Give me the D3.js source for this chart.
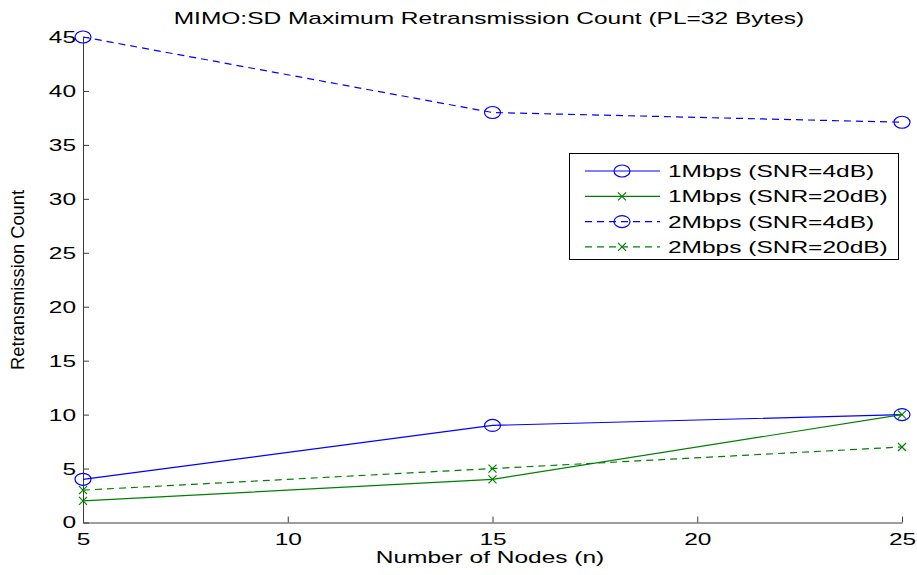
<!DOCTYPE html>
<html>
<head>
<meta charset="utf-8">
<script src="https://cdn.jsdelivr.net/npm/d3@7"></script>
<style>
  body { margin: 0; background: #fff; }
  text { font-family: "Liberation Sans", Arial, sans-serif; fill: #000; }
</style>
</head>
<body>
<div id="chart"></div>
<script>
// ---- data ----
const nodes = [5, 15, 25];
const seriesNames = ["1Mbps (SNR=4dB)", "1Mbps (SNR=20dB)", "2Mbps (SNR=4dB)", "2Mbps (SNR=20dB)"];
const mbps1Snr4  = [4, 9, 10];
const mbps1Snr20 = [2, 4, 10];
const mbps2Snr4  = [45, 38, 37.1];
const mbps2Snr20 = [3, 5, 7];
const xTicks = [5, 10, 15, 20, 25];
const yTicks = [0, 5, 10, 15, 20, 25, 30, 35, 40, 45];

const series = [
  { name: seriesNames[0], values: mbps1Snr4,  color: "#0000ff", dash: null,  marker: "o" },
  { name: seriesNames[1], values: mbps1Snr20, color: "#008000", dash: null,  marker: "x" },
  { name: seriesNames[2], values: mbps2Snr4,  color: "#0000ff", dash: "7,5", marker: "o" },
  { name: seriesNames[3], values: mbps2Snr20, color: "#008000", dash: "7,5", marker: "x" }
];

const width = 917, height = 575;
const stretch = 1.44; // the picture's text is wider than normal glyphs
const x = d3.scaleLinear().domain([5, 25]).range([83, 902]);
const y = d3.scaleLinear().domain([0, 45]).range([522.5, 37]);

const svg = d3.select("#chart").append("svg")
  .attr("width", width).attr("height", height);

// axes (MATLAB style: ticks inside, no box)
const xAxis = svg.append("g").attr("transform", `translate(0,${y(0)})`)
  .call(d3.axisBottom(x).tickValues(xTicks).tickSizeInner(-6).tickSizeOuter(0).tickPadding(10));
const yAxis = svg.append("g").attr("transform", `translate(${x(5)},0)`)
  .call(d3.axisLeft(y).tickValues(yTicks).tickSizeInner(-6).tickSizeOuter(0).tickPadding(8));

[xAxis, yAxis].forEach(a => {
  a.select(".domain").attr("stroke", "#3c3c3c");
  a.selectAll(".tick line").attr("stroke", "#3c3c3c");
  a.selectAll(".tick text").attr("font-size", 17).attr("font-family", "Liberation Sans, Arial, sans-serif").attr("fill", "#000");
});
xAxis.selectAll(".tick text").attr("dy", "0.71em");
yAxis.selectAll(".tick text").attr("x", -7);

// lines
const line = d3.line().x((d, i) => x(nodes[i])).y(d => y(d));
const plot = svg.append("g");

function drawMarker(g, type, cx, cy, color) {
  if (type === "o") {
    g.append("ellipse").attr("cx", cx).attr("cy", cy).attr("rx", 8).attr("ry", 6)
      .attr("fill", "none").attr("stroke", color).attr("stroke-width", 1.2);
  } else {
    const s = 4;
    g.append("path")
      .attr("d", `M${cx - s},${cy - s}L${cx + s},${cy + s}M${cx - s},${cy + s}L${cx + s},${cy - s}`)
      .attr("stroke", color).attr("stroke-width", 1.2);
  }
}

series.forEach(s => {
  plot.append("path").datum(s.values)
    .attr("d", line)
    .attr("fill", "none")
    .attr("stroke", s.color)
    .attr("stroke-width", 1.2)
    .attr("stroke-dasharray", s.dash);
  s.values.forEach((v, i) => drawMarker(plot, s.marker, x(nodes[i]), y(v), s.color));
});

// title & labels
svg.append("text").attr("class", "wide").attr("x", 489).attr("y", 24).attr("text-anchor", "middle")
  .attr("font-size", 17).text("MIMO:SD Maximum Retransmission Count (PL=32 Bytes)");
svg.append("text").attr("class", "wide").attr("x", 490).attr("y", 563).attr("text-anchor", "middle")
  .attr("font-size", 17).text("Number of Nodes (n)");
svg.append("text").attr("transform", "translate(24,280) rotate(-90)")
  .attr("text-anchor", "middle").attr("font-size", 18.5)
  .attr("textLength", 180).attr("lengthAdjust", "spacingAndGlyphs")
  .text("Retransmission Count");

// legend
const legend = svg.append("g");
legend.append("rect").attr("x", 569.5).attr("y", 153.5).attr("width", 329).attr("height", 106)
  .attr("fill", "#fff").attr("stroke", "#000").attr("stroke-width", 1);
series.forEach((s, i) => {
  const ly = 171 + i * 25.3;
  legend.append("line").attr("x1", 585).attr("x2", 660).attr("y1", ly).attr("y2", ly)
    .attr("stroke", s.color).attr("stroke-width", 1.2).attr("stroke-dasharray", s.dash);
  drawMarker(legend, s.marker, 622, ly, s.color);
  legend.append("text").attr("class", "wide").attr("x", 668).attr("y", ly + 6).attr("font-size", 17).text(s.name);
});

// widen horizontal text to match the stretched glyphs of the picture
xAxis.selectAll(".tick text").classed("wide", true);
yAxis.selectAll(".tick text").classed("wide", true);
svg.selectAll("text.wide").each(function () {
  const w = this.getComputedTextLength();
  d3.select(this).attr("textLength", w * stretch).attr("lengthAdjust", "spacingAndGlyphs");
});
</script>
</body>
</html>
